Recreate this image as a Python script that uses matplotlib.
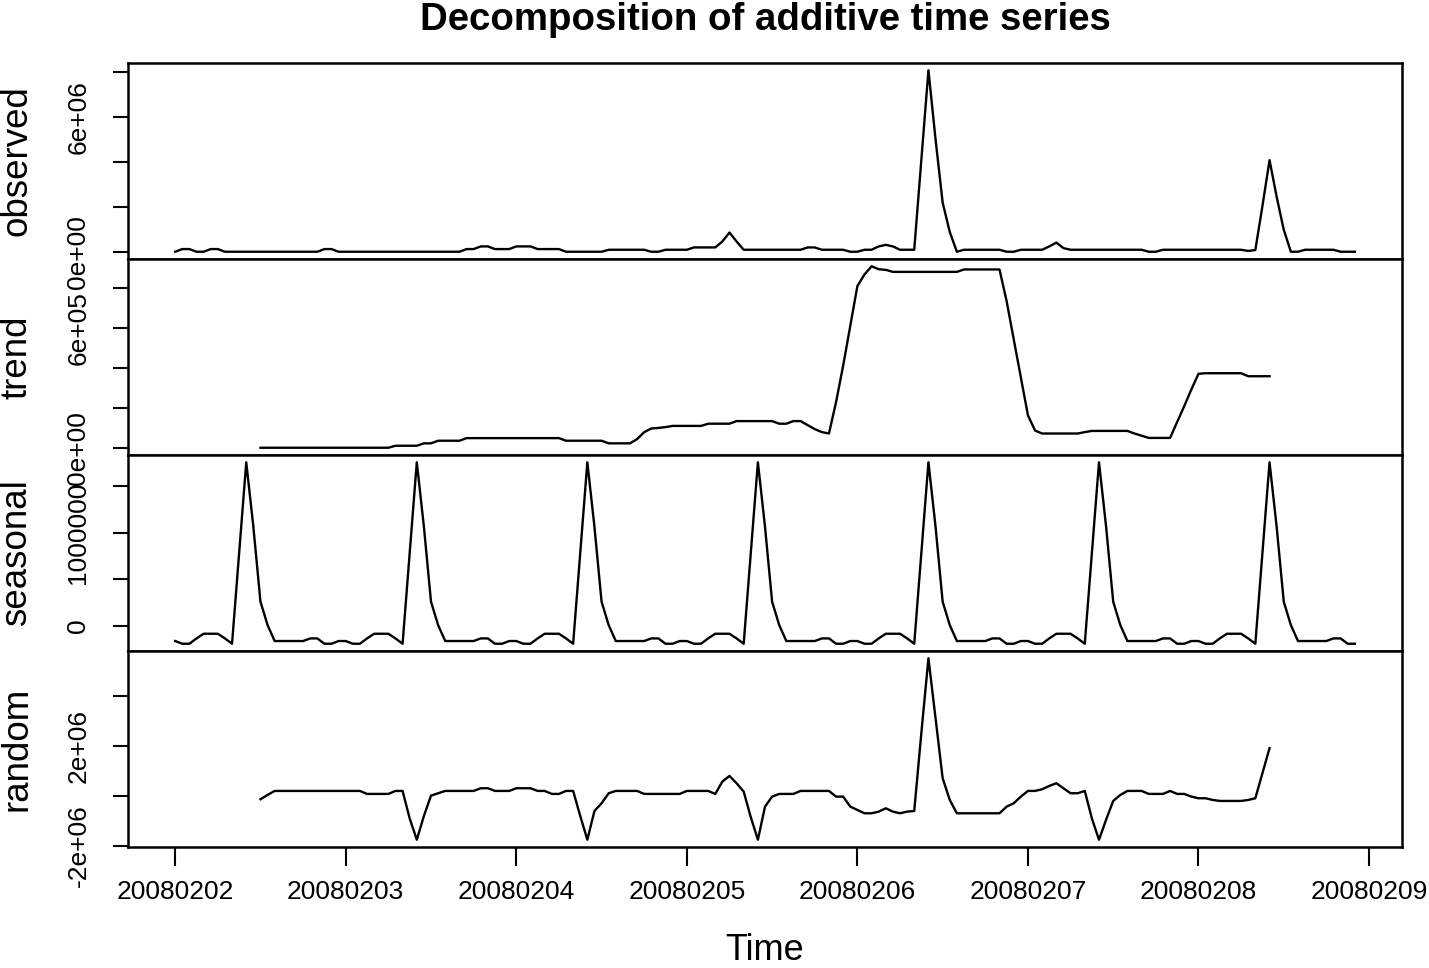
import numpy as np
import matplotlib
matplotlib.use('Agg')
import matplotlib.pyplot as plt

plt.rcParams['font.family'] = ['Liberation Sans', 'DejaVu Sans']

# hourly series starting 20080202, frequency 24, values in thousands
start = 20080202
freq = 24

observed_k = [
    25, 143, 143, 25, 25, 143, 143, 25, 25, 25, 25, 25, 25, 25, 25, 25, 25, 25, 25, 25, 25, 143, 143, 25,
    25, 25, 25, 25, 25, 25, 25, 25, 25, 25, 25, 25, 25, 25, 25, 25, 25, 143, 143, 261, 261, 143, 143, 143,
    261, 261, 261, 143, 143, 143, 143, 25, 25, 25, 25, 25, 25, 113, 113, 113, 113, 113, 113, 25, 25, 113, 113, 113,
    113, 216, 216, 216, 216, 480, 875, 480, 113, 113, 113, 113, 113, 113, 113, 113, 113, 216, 216, 113, 113, 113, 113, 25,
    25, 113, 113, 261, 330, 261, 113, 113, 113, 4100, 8060, 5000, 2200, 900, 25, 113, 113, 113, 113, 113, 113, 25, 25, 113,
    113, 113, 113, 260, 430, 185, 113, 113, 113, 113, 113, 113, 113, 113, 113, 113, 113, 25, 25, 113, 113, 113, 113, 113,
    113, 113, 113, 113, 113, 113, 113, 60, 100, 2050, 4080, 2460, 1000, 25, 25, 113, 113, 113, 113, 113, 25, 25, 25,
]

trend_k = [
    None, None, None, None, None, None, None, None, None, None, None, None, 2, 2, 2, 2, 2, 2, 2, 2, 2, 2, 2, 2,
    2, 2, 2, 2, 2, 2, 2, 12, 12, 12, 12, 24, 24, 37, 37, 37, 37, 50, 50, 50, 50, 50, 50, 50,
    50, 50, 50, 50, 50, 50, 50, 37, 37, 37, 37, 37, 37, 24, 24, 24, 24, 45, 80, 98, 101, 105, 111, 111,
    111, 111, 111, 122, 122, 122, 122, 135, 135, 135, 135, 135, 135, 122, 122, 135, 135, 115, 95, 80, 73, 230, 412, 610,
    809, 867, 908, 893, 890, 880, 880, 880, 880, 880, 880, 880, 880, 880, 880, 892, 892, 892, 892, 892, 892, 734, 544, 354,
    164, 88, 73, 73, 73, 73, 73, 73, 80, 86, 86, 86, 86, 86, 86, 73, 62, 51, 51, 51, 51, 131, 210, 293,
    371, 374, 374, 374, 374, 374, 374, 359, 359, 359, 359, None, None, None, None, None, None, None, None, None, None, None, None,
]

seasonal_day_k = [-161, -190, -190, -133, -83, -83, -83, -133, -190, 780, 1753, 1063,
                  260, 10, -161, -161, -161, -161, -161, -133, -133, -190, -190, -161]

random_k = [
    None, None, None, None, None, None, None, None, None, None, None, None, -133, 40, 200, 200, 200, 200, 200, 200, 200, 200, 200, 200,
    200, 200, 200, 80, 80, 80, 80, 200, 200, -900, -1750, -800, 13, 107, 200, 200, 200, 200, 200, 307, 307, 200, 200, 200,
    307, 307, 307, 200, 200, 80, 80, 200, 200, -800, -1750, -600, -293, 107, 200, 200, 200, 200, 80, 80, 80, 80, 80, 80,
    200, 200, 200, 200, 80, 573, 800, 507, 173, -850, -1750, -427, -27, 80, 80, 80, 200, 200, 200, 200, 200, -27, -27, -427,
    -560, -693, -693, -627, -493, -627, -693, -627, -600, 2510, 5500, 3100, 707, -160, -693, -693, -693, -693, -693, -693, -693, -427, -293, -27,
    200, 200, 267, 400, 507, 307, 107, 107, 200, -900, -1750, -950, -200, 40, 200, 200, 200, 80, 80, 80, 200, 80, 80, -27,
    -93, -93, -160, -200, -200, -200, -200, -160, -93, 907, 1910, None, None, None, None, None, None, None, None, None, None, None, None,
]

panel_names = ['observed', 'trend', 'seasonal', 'random']
panel_ticks = [[0, 2e6, 4e6, 6e6, 8e6], [0, 2e5, 4e5, 6e5, 8e5],
               [0, 5e5, 1e6, 1.5e6], [-2e6, 0, 2e6, 4e6]]
panel_ticklabels = [['0e+00', '', '', '6e+06', ''], ['0e+00', '', '', '6e+05', ''],
                    ['0', '', '1000000', ''], ['-2e+06', '', '2e+06', '']]
x_ticks = [20080202, 20080203, 20080204, 20080205, 20080206, 20080207, 20080208, 20080209]


def main():
    n = len(observed_k)
    t = start + np.arange(n) / freq
    series = [
        np.array(observed_k, dtype=float) * 1000,
        np.array(trend_k, dtype=float) * 1000,
        np.resize(np.array(seasonal_day_k, dtype=float), n) * 1000,
        np.array(random_k, dtype=float) * 1000,
    ]

    W, H = 1429, 968
    fig = plt.figure(figsize=(W / 100, H / 100), dpi=100)
    left, right, top, ph = 128, 1402, 63, 196

    span = t[-1] - t[0]
    xlim = (t[0] - 0.04 * span, t[-1] + 0.04 * span)

    for i, (name, y) in enumerate(zip(panel_names, series)):
        bottom = H - (top + ph * (i + 1))
        ax = fig.add_axes([left / W, bottom / H, (right - left) / W, ph / H])
        ax.plot(t, y, color='black', lw=1.7)
        lo, hi = np.nanmin(y), np.nanmax(y)
        r = hi - lo
        ax.set_ylim(lo - 0.04 * r, hi + 0.04 * r)
        ax.set_xlim(*xlim)
        ax.set_yticks(panel_ticks[i])
        ax.set_yticklabels(panel_ticklabels[i], rotation=90, va='center', fontsize=19)
        ax.tick_params(axis='y', length=11, width=1.5, pad=16)
        for s in ax.spines.values():
            s.set_linewidth(1.8)
        if i < 3:
            ax.set_xticks([])
        else:
            ax.set_xticks(x_ticks)
            ax.set_xticklabels([str(v) for v in x_ticks], fontsize=19)
            ax.tick_params(axis='x', length=14, width=1.5, pad=10)
        fig.text(17 / W, (bottom + ph / 2) / H, name, rotation=90, ha='center', va='center', fontsize=26.5)

    fig.text(765 / W, 1 - 20 / H, 'Decomposition of additive time series',
             ha='center', va='center', fontsize=27.6, fontweight='bold')
    fig.text(765 / W, 1 - 950 / H, 'Time', ha='center', va='center', fontsize=26)

    fig.savefig('out.png', dpi=100)


if __name__ == '__main__':
    main()
